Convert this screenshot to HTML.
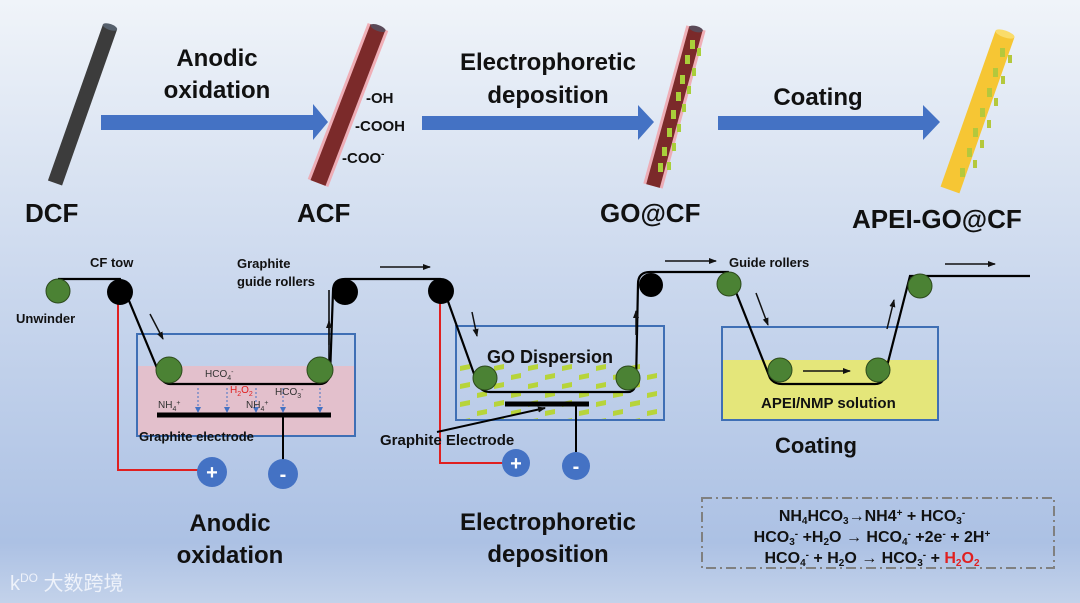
<!DOCTYPE html>
<html><head><meta charset="utf-8"><style>
html,body{margin:0;padding:0;width:1080px;height:603px;overflow:hidden}
svg{display:block}
text{font-family:"Liberation Sans",Arial,sans-serif;font-weight:bold;fill:#111}
</style></head><body>
<svg width="1080" height="603" viewBox="0 0 1080 603" xmlns="http://www.w3.org/2000/svg">
<defs>
<linearGradient id="bg" x1="0" y1="0" x2="0" y2="1">
<stop offset="0" stop-color="#f0f4f9"/><stop offset="0.45" stop-color="#ccd9ee"/><stop offset="0.9" stop-color="#acc1e4"/><stop offset="1" stop-color="#c3d2ea"/>
</linearGradient>
<pattern id="go" x="456" y="363" width="34" height="18" patternUnits="userSpaceOnUse">
<path d="M4 3 l10 -2 l0 5 l-10 2z" fill="#b7d43a"/>
<path d="M21 12 l10 -2 l0 5 l-10 2z" fill="#b7d43a"/>
</pattern>
<marker id="ah" markerWidth="8" markerHeight="8" refX="7" refY="4" orient="auto" markerUnits="userSpaceOnUse"><path d="M0 1 L8 4 L0 7z" fill="#111"/></marker>
<marker id="bh" markerWidth="6" markerHeight="6" refX="5" refY="3" orient="auto" markerUnits="userSpaceOnUse"><path d="M0 0 L6 3 L0 6z" fill="#4472c4"/></marker>
</defs>
<rect width="1080" height="603" fill="url(#bg)"/>

<!-- top fibers -->
<line x1="110" y1="27" x2="55" y2="183" stroke="#3c3c3c" stroke-width="15"/>
<ellipse cx="110" cy="27" rx="7.5" ry="3" transform="rotate(19 110 27)" fill="#56606c"/>
<line x1="378" y1="27" x2="318" y2="183" stroke="#f2a0a8" stroke-width="22" opacity="0.8"/>
<line x1="378" y1="27" x2="318" y2="183" stroke="#7b2a2a" stroke-width="16"/>
<ellipse cx="378" cy="28" rx="8" ry="3" transform="rotate(21 378 28)" fill="#5a4a58"/>
<line x1="696" y1="28" x2="653" y2="186" stroke="#f2a0a8" stroke-width="20" opacity="0.8"/>
<line x1="696" y1="28" x2="653" y2="186" stroke="#7b2a2a" stroke-width="14"/>
<ellipse cx="696" cy="29" rx="7" ry="3" transform="rotate(15 696 29)" fill="#5a4a58"/>
<g fill="#a9cf3a">
<rect x="690" y="40" width="5" height="9"/><rect x="685" y="55" width="5" height="9"/><rect x="680" y="75" width="5" height="9"/><rect x="676" y="92" width="5" height="9"/><rect x="671" y="110" width="5" height="9"/><rect x="667" y="128" width="5" height="9"/><rect x="662" y="147" width="5" height="9"/><rect x="658" y="163" width="5" height="9"/>
<rect x="697" y="48" width="4" height="8"/><rect x="692" y="68" width="4" height="8"/><rect x="687" y="86" width="4" height="8"/><rect x="682" y="104" width="4" height="8"/><rect x="677" y="124" width="4" height="8"/><rect x="672" y="143" width="4" height="8"/><rect x="667" y="162" width="4" height="8"/>
</g>
<line x1="1005" y1="34" x2="950" y2="190" stroke="#f6c634" stroke-width="20"/>
<ellipse cx="1005" cy="34" rx="10" ry="3.5" transform="rotate(19 1005 34)" fill="#fadc6a"/>
<g fill="#b4c83c">
<rect x="1000" y="48" width="5" height="9"/><rect x="993" y="68" width="5" height="9"/><rect x="987" y="88" width="5" height="9"/><rect x="980" y="108" width="5" height="9"/><rect x="973" y="128" width="5" height="9"/><rect x="967" y="148" width="5" height="9"/><rect x="960" y="168" width="5" height="9"/>
<rect x="1008" y="55" width="4" height="8"/><rect x="1001" y="76" width="4" height="8"/><rect x="994" y="98" width="4" height="8"/><rect x="987" y="120" width="4" height="8"/><rect x="980" y="140" width="4" height="8"/><rect x="973" y="160" width="4" height="8"/>
</g>

<!-- big arrows -->
<path d="M101 115 H313 V104 L328 122 L313 140 V130 H101z" fill="#4472c4"/>
<path d="M422 116 H638 V105 L654 122 L638 140 V130 H422z" fill="#4472c4"/>
<path d="M718 116 H923 V105 L940 122 L923 140 V130 H718z" fill="#4472c4"/>

<g font-size="24" text-anchor="middle">
<text x="217" y="66">Anodic</text><text x="217" y="98">oxidation</text>
<text x="548" y="70">Electrophoretic</text><text x="548" y="103">deposition</text>
<text x="818" y="105">Coating</text>
</g>
<g font-size="26">
<text x="25" y="222">DCF</text><text x="297" y="222">ACF</text><text x="600" y="222">GO@CF</text><text x="852" y="228">APEI-GO@CF</text>
</g>
<g font-size="15"><text x="366" y="103">-OH</text><text x="355" y="131">-COOH</text><text x="342" y="163">-COO<tspan font-size="10" dy="-6">-</tspan></text></g>

<!-- tanks -->
<rect x="137" y="366" width="218" height="70" fill="#e3c0cc"/>
<rect x="137" y="334" width="218" height="102" fill="none" stroke="#3f6fb5" stroke-width="2"/>
<rect x="457" y="363" width="206" height="56" fill="url(#go)"/>
<rect x="456" y="326" width="208" height="94" fill="none" stroke="#3f6fb5" stroke-width="2"/>
<rect x="722" y="360" width="216" height="60" fill="#e4e67a"/>
<rect x="722" y="327" width="216" height="93" fill="none" stroke="#3f6fb5" stroke-width="2"/>

<!-- wires -->
<polyline points="118,300 118,470 198,470" fill="none" stroke="#e02020" stroke-width="2"/>
<polyline points="440,300 440,463 503,463" fill="none" stroke="#e02020" stroke-width="2"/>
<line x1="157" y1="415" x2="331" y2="415" stroke="#000" stroke-width="5"/>
<line x1="283" y1="415" x2="283" y2="460" stroke="#000" stroke-width="2"/>
<line x1="505" y1="404" x2="589" y2="404" stroke="#000" stroke-width="5"/>
<line x1="576" y1="404" x2="576" y2="452" stroke="#000" stroke-width="2"/>
<line x1="437" y1="432" x2="545" y2="408" stroke="#000" stroke-width="2" marker-end="url(#ah)"/>

<!-- tow path -->
<path d="M58 279 H120 L162 380 Q166 384 170 384 H320 Q327 384 330 376 L333 291 Q333 279 345 279 H440 L478 385 Q482 392 490 392 H628 Q634 392 636 384 L638 284 Q638 272 650 272 H728 L770 378 Q774 384 782 384 H875 Q882 384 884 378 L910 276 H1030" fill="none" stroke="#000" stroke-width="2.2"/>
<line x1="329" y1="290" x2="329" y2="376" stroke="#000" stroke-width="1.5"/>

<!-- rollers -->
<g stroke="#2c4a1c" stroke-width="1" fill="#4b8234">
<circle cx="58" cy="291" r="12"/><circle cx="169" cy="370" r="13"/><circle cx="320" cy="370" r="13"/>
<circle cx="485" cy="378" r="12"/><circle cx="628" cy="378" r="12"/>
<circle cx="729" cy="284" r="12"/><circle cx="780" cy="370" r="12"/><circle cx="878" cy="370" r="12"/><circle cx="920" cy="286" r="12"/>
</g>
<g fill="#000"><circle cx="120" cy="292" r="13"/><circle cx="345" cy="292" r="13"/><circle cx="441" cy="291" r="13"/><circle cx="651" cy="285" r="12"/></g>

<!-- electrodes circles -->
<g fill="#4472c4"><circle cx="212" cy="472" r="15"/><circle cx="283" cy="474" r="15"/><circle cx="516" cy="463" r="14"/><circle cx="576" cy="466" r="14"/></g>
<g font-size="20" text-anchor="middle"><text x="212" y="479" style="fill:#fff">+</text><text x="283" y="481" style="fill:#fff">-</text><text x="516" y="470" style="fill:#fff">+</text><text x="576" y="473" style="fill:#fff">-</text></g>

<!-- small arrows -->
<g stroke="#111" stroke-width="1.5" marker-end="url(#ah)">
<line x1="380" y1="267" x2="430" y2="267"/><line x1="665" y1="261" x2="716" y2="261"/><line x1="945" y1="264" x2="995" y2="264"/>
<line x1="803" y1="371" x2="850" y2="371"/>
<line x1="150" y1="314" x2="163" y2="339"/><line x1="472" y1="312" x2="477" y2="336"/><line x1="756" y1="293" x2="768" y2="325"/>
<line x1="329" y1="345" x2="329" y2="321"/><line x1="636" y1="335" x2="636" y2="311"/><line x1="887" y1="329" x2="894" y2="300"/>
</g>
<g stroke="#4472c4" stroke-width="1" stroke-dasharray="2,2" marker-end="url(#bh)">
<line x1="198" y1="388" x2="198" y2="412"/><line x1="227" y1="388" x2="227" y2="412"/><line x1="256" y1="388" x2="256" y2="412"/><line x1="283" y1="388" x2="283" y2="412"/><line x1="320" y1="388" x2="320" y2="412"/>
</g>
<g font-size="10">
<text x="205" y="377" style="font-weight:normal;fill:#333">HCO<tspan font-size="7" dy="3">4</tspan><tspan font-size="7" dy="-6">-</tspan></text>
<text x="230" y="393" style="font-weight:normal;fill:#e02020">H<tspan font-size="7" dy="3">2</tspan><tspan dy="-3">O</tspan><tspan font-size="7" dy="3">2</tspan></text>
<text x="275" y="395" style="font-weight:normal;fill:#333">HCO<tspan font-size="7" dy="3">3</tspan><tspan font-size="7" dy="-6">-</tspan></text>
<text x="158" y="408" style="font-weight:normal;fill:#333">NH<tspan font-size="7" dy="3">4</tspan><tspan font-size="7" dy="-6">+</tspan></text>
<text x="246" y="408" style="font-weight:normal;fill:#333">NH<tspan font-size="7" dy="3">4</tspan><tspan font-size="7" dy="-6">+</tspan></text>
</g>

<g font-size="13">
<text x="90" y="267">CF tow</text><text x="16" y="323">Unwinder</text>
<text x="237" y="268">Graphite</text><text x="237" y="286">guide rollers</text>
<text x="139" y="441">Graphite electrode</text><text x="729" y="267">Guide rollers</text>
</g>
<text x="487" y="363" font-size="18">GO Dispersion</text>
<text x="380" y="445" font-size="15">Graphite Electrode</text>
<text x="761" y="408" font-size="15">APEI/NMP solution</text>
<text x="775" y="453" font-size="22">Coating</text>
<g font-size="24" text-anchor="middle">
<text x="230" y="531">Anodic</text><text x="230" y="563">oxidation</text>
<text x="548" y="530">Electrophoretic</text><text x="548" y="562">deposition</text>
</g>

<rect x="702" y="498" width="352" height="70" fill="none" stroke="#808080" stroke-width="2" stroke-dasharray="10,4,2,4"/>
<g font-size="16" text-anchor="middle">
<text x="872" y="521">NH<tspan font-size="10" dy="3">4</tspan><tspan dy="-3">HCO</tspan><tspan font-size="10" dy="3">3</tspan><tspan dy="-3">→NH4</tspan><tspan font-size="10" dy="-5">+</tspan><tspan dy="5"> + HCO</tspan><tspan font-size="10" dy="3">3</tspan><tspan font-size="10" dy="-8">-</tspan></text>
<text x="872" y="542">HCO<tspan font-size="10" dy="3">3</tspan><tspan font-size="10" dy="-8">-</tspan><tspan dy="5"> +H</tspan><tspan font-size="10" dy="3">2</tspan><tspan dy="-3">O → HCO</tspan><tspan font-size="10" dy="3">4</tspan><tspan font-size="10" dy="-8">-</tspan><tspan dy="5"> +2e</tspan><tspan font-size="10" dy="-5">-</tspan><tspan dy="5"> + 2H</tspan><tspan font-size="10" dy="-5">+</tspan></text>
<text x="872" y="563">HCO<tspan font-size="10" dy="3">4</tspan><tspan font-size="10" dy="-8">-</tspan><tspan dy="5"> + H</tspan><tspan font-size="10" dy="3">2</tspan><tspan dy="-3">O → HCO</tspan><tspan font-size="10" dy="3">3</tspan><tspan font-size="10" dy="-8">-</tspan><tspan dy="5"> + </tspan><tspan style="fill:#e02020">H</tspan><tspan font-size="10" dy="3" style="fill:#e02020">2</tspan><tspan dy="-3" style="fill:#e02020">O</tspan><tspan font-size="10" dy="3" style="fill:#e02020">2</tspan></text>
</g>
<text x="10" y="590" font-size="20" style="fill:#eef2fa;font-weight:normal;font-family:'Liberation Sans','Noto Sans CJK SC',sans-serif">k<tspan font-size="12" dy="-8">DO</tspan><tspan dy="8"> 大数跨境</tspan></text>
</svg>
</body></html>
